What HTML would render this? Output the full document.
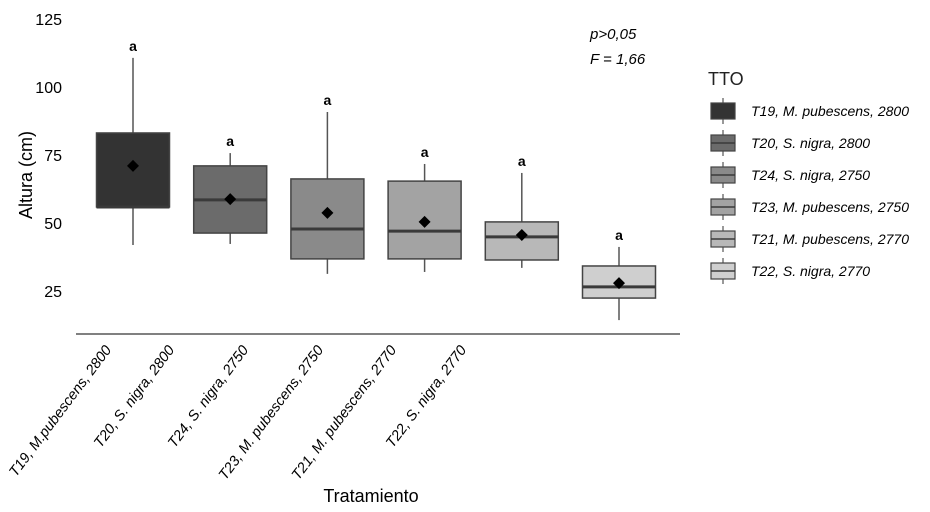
<!DOCTYPE html>
<html><head><meta charset="utf-8"><style>
body{margin:0;background:#fff}
svg{display:block;font-family:"Liberation Sans",sans-serif}
</style></head><body>
<svg width="930" height="512" viewBox="0 0 930 512">
<g id="yticks"></g>
<g id="boxes"></g>
<line x1="76" y1="334" x2="680" y2="334" stroke="#000" stroke-width="1"/>
<g id="xlabels"></g>
<text x="371" y="502" font-size="18" text-anchor="middle">Tratamiento</text>
<text transform="translate(32,175) rotate(-90)" font-size="18" text-anchor="middle">Altura (cm)</text>
<text x="590" y="39" font-size="15" font-style="italic">p&gt;0,05</text>
<text x="590" y="64" font-size="15" font-style="italic">F = 1,66</text>
<text x="708" y="85" font-size="18" fill="#222">TTO</text>
<g id="legend"></g>
</svg>
<script>
const categories=["T19, M.pubescens, 2800","T20, S. nigra, 2800","T24, S. nigra, 2750","T23, M. pubescens, 2750","T21, M. pubescens, 2770","T22, S. nigra, 2770"];
const legendLabels=["T19, M. pubescens, 2800","T20, S. nigra, 2800","T24, S. nigra, 2750","T23, M. pubescens, 2750","T21, M. pubescens, 2770","T22, S. nigra, 2770"];
const whiskerLow=[41.9,42.3,31.3,32,33.5,14.3];
const q1=[55.9,46.3,36.8,36.8,36.4,22.4];
const median=[55.9,58.5,47.8,47,44.9,26.5];
const q3=[83.1,71,66.2,65.4,50.4,34.2];
const whiskerHigh=[110.7,75.7,90.8,71.7,68.4,41.2];
const means=[71,58.8,53.7,50.4,45.6,27.9];
const letters=["a","a","a","a","a","a"];
const yTicks=[25,50,75,100,125];
const fills=["#333333","#6b6b6b","#8a8a8a","#a3a3a3","#b8b8b8","#cfcfcf"];
const NS="http://www.w3.org/2000/svg";
function y(v){return 291-(v-25)*2.72;}
function x(i){return 133+i*97.2;}
function mk(tag,attrs,parent){const e=document.createElementNS(NS,tag);for(const k in attrs)e.setAttribute(k,attrs[k]);parent.appendChild(e);return e;}
const yt=document.getElementById('yticks');
yTicks.forEach(t=>{const e=mk('text',{x:62,y:y(t)+6,'font-size':16,'text-anchor':'end'},yt);e.textContent=t;

});
const bx=document.getElementById('boxes');
const hw=36.5;
categories.forEach((c,i)=>{
 const g=mk('g',{},bx);
 
 
 const cx=x(i);
 mk('line',{x1:cx,x2:cx,y1:y(whiskerHigh[i]),y2:y(whiskerLow[i]),stroke:'#555','stroke-width':1.5},g);
 mk('rect',{x:cx-hw,y:y(q3[i]),width:hw*2,height:y(q1[i])-y(q3[i]),fill:fills[i],stroke:'#444','stroke-width':1.5},g);
 mk('line',{x1:cx-hw,x2:cx+hw,y1:y(median[i]),y2:y(median[i]),stroke:'#3a3a3a','stroke-width':3},g);
 const m=y(means[i]);
 mk('polygon',{points:`${cx},${m-6} ${cx+6},${m} ${cx},${m+6} ${cx-6},${m}`,fill:'#000'},g);
 const l=mk('text',{x:cx,y:y(whiskerHigh[i])-7,'font-size':14,'font-weight':'bold','text-anchor':'middle'},g);l.textContent=letters[i];
});
const xl=document.getElementById('xlabels');
const ends=[112,175,249,324,397,467];
categories.forEach((c,i)=>{
 const t=mk('text',{transform:`translate(${ends[i]},350) rotate(-53)`,'font-size':14.5,'font-style':'italic','text-anchor':'end'},xl);
 t.textContent=c;
 
 
});
const lg=document.getElementById('legend');
legendLabels.forEach((c,i)=>{
 const g=mk('g',{},lg);
 
 
 const cy=111+i*32;
 mk('line',{x1:723,x2:723,y1:cy-13,y2:cy+13,stroke:'#555','stroke-width':1.2},g);
 mk('rect',{x:711,y:cy-8,width:24,height:16,fill:fills[i],stroke:'#444','stroke-width':1.2},g);
 if(i>0)mk('line',{x1:711,x2:735,y1:cy,y2:cy,stroke:'#3a3a3a','stroke-width':1.5},g);
 const t=mk('text',{x:751,y:cy+5,'font-size':14,'font-style':'italic'},g);t.textContent=c;
});
</script>
</body></html>
